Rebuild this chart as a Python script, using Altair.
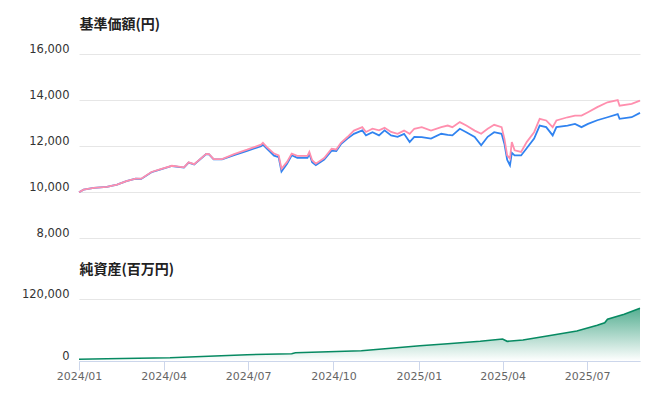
import altair as alt
import pandas as pd

# ---- 基準価額 (円) ----
nav_dates = ["2024-01-01","2024-01-06","2024-01-17","2024-01-31","2024-02-11","2024-02-21","2024-03-02","2024-03-08","2024-03-19","2024-03-29",
             "2024-04-10","2024-04-23","2024-04-28","2024-05-04","2024-05-17","2024-05-20","2024-05-25","2024-06-03","2024-06-16","2024-06-30",
             "2024-07-15","2024-07-17","2024-07-21","2024-07-29","2024-08-03","2024-08-06","2024-08-12","2024-08-17","2024-08-23","2024-09-03",
             "2024-09-05","2024-09-08","2024-09-12","2024-09-21","2024-09-29","2024-10-04","2024-10-09","2024-10-16","2024-10-23","2024-11-01",
             "2024-11-05","2024-11-12","2024-11-19","2024-11-25","2024-12-02","2024-12-09","2024-12-16","2024-12-22","2024-12-27","2025-01-04",
             "2025-01-14","2025-01-25","2025-02-01","2025-02-06","2025-02-14","2025-02-21","2025-03-02","2025-03-09","2025-03-16","2025-03-23",
             "2025-03-31","2025-04-03","2025-04-06","2025-04-09","2025-04-11","2025-04-14","2025-04-21","2025-04-27","2025-05-05","2025-05-11",
             "2025-05-18","2025-05-25","2025-05-29","2025-06-10","2025-06-18","2025-06-25","2025-07-02","2025-07-12","2025-07-23","2025-08-03",
             "2025-08-05","2025-08-18","2025-08-27"]

nav_reinvested = [9990,10100,10180,10220,10320,10470,10580,10580,10870,10990,
                  11140,11070,11290,11210,11660,11650,11430,11430,11650,11840,
                  12060,12140,11960,11670,11590,11010,11310,11670,11570,11570,
                  11740,11380,11230,11480,11880,11850,12140,12390,12670,12820,
                  12610,12750,12680,12790,12610,12530,12670,12530,12750,12820,
                  12670,12820,12890,12820,13040,12890,12670,12530,12750,12920,
                  12820,12320,11590,11450,12170,11810,11740,12170,12600,13180,
                  13110,12820,13110,13250,13320,13320,13470,13690,13900,14000,
                  13750,13830,13970]

nav_base = [9990,10100,10180,10220,10320,10470,10580,10570,10860,10980,
            11130,11060,11280,11200,11650,11640,11420,11420,11600,11790,
            11990,12060,11900,11580,11510,10890,11230,11600,11490,11490,
            11660,11300,11170,11410,11800,11780,12080,12320,12530,12680,
            12460,12600,12460,12680,12460,12400,12530,12170,12400,12390,
            12320,12530,12480,12460,12750,12600,12390,12030,12400,12600,
            12530,12100,11400,11160,11700,11590,11590,11900,12320,12890,
            12820,12460,12820,12890,12960,12820,12960,13120,13250,13390,
            13180,13250,13440]

# ---- 純資産 (百万円) ----
asset_dates = ["2024-01-01","2024-01-31","2024-04-08","2024-06-30","2024-08-17","2024-08-21","2024-10-31",
               "2024-12-08","2025-01-02","2025-02-01","2025-03-08","2025-04-01","2025-04-06","2025-04-23",
               "2025-05-19","2025-06-20","2025-07-12","2025-07-20","2025-07-23","2025-08-10","2025-08-27"]
net_assets = [3300,4500,6400,12200,14100,16100,19900,
              25700,29600,33500,38100,42600,38100,40600,
              48400,58000,69000,74100,80700,90400,102000]

nav_ticks = [8000, 10000, 12000, 14000, 16000]
asset_ticks = [0, 120000]
x_ticks = [(2024, 1), (2024, 4), (2024, 7), (2024, 10), (2025, 1), (2025, 4), (2025, 7)]

df_nav = pd.DataFrame({"date": nav_dates, "reinv": nav_reinvested, "base": nav_base})
df_assets = pd.DataFrame({"date": asset_dates, "assets": net_assets})

x_scale = alt.Scale(type="utc", domain=[alt.DateTime(year=2024, month=1, date=1, utc=True),
                                        alt.DateTime(year=2025, month=8, date=27, utc=True)])

LABEL_FONT = "DejaVu Sans"
TITLE_FONT = "Noto Sans CJK JP"

def y_axis(title, values):
    return alt.Axis(values=values, format=",d", title=title, grid=True, gridColor="#e6e6e6",
                    domain=False, ticks=False, labelPadding=10, labelBaseline="alphabetic",
                    labelOffset=-1.5,
                    labelFont=LABEL_FONT, labelFontSize=11.5, labelColor="#333333",
                    titleFont=TITLE_FONT, titleFontSize=14, titleFontWeight="bold", titleColor="#222222",
                    titleAngle=0, titleAlign="left", titleBaseline="middle", titleX=0, titleY=-30)

top_y_scale = alt.Scale(domain=[8000, 16000], nice=False, zero=False)
top_axis = y_axis("基準価額(円)", nav_ticks)

base_chart = alt.Chart(df_nav)
blue_line = base_chart.mark_line(color="#3083f0", strokeWidth=1.8).encode(
    x=alt.X("date:T", scale=x_scale, axis=None),
    y=alt.Y("base:Q", scale=top_y_scale, axis=top_axis),
)
pink_line = base_chart.mark_line(color="#ff8fae", strokeWidth=1.8).encode(
    x=alt.X("date:T", scale=x_scale, axis=None),
    y=alt.Y("reinv:Q", scale=top_y_scale, axis=top_axis),
)
top = alt.layer(blue_line, pink_line).properties(width=561, height=184)

gradient = alt.Gradient(
    gradient="linear",
    stops=[alt.GradientStop(color="#ffffff", offset=0),
           alt.GradientStop(color="#0e8c63", offset=1)],
    x1=1, x2=1, y1=1, y2=0,
)

bottom = alt.Chart(df_assets).mark_area(
    color=gradient, line={"color": "#078a62", "strokeWidth": 1.6}
).encode(
    x=alt.X("date:T", scale=x_scale,
            axis=alt.Axis(values=[alt.DateTime(year=y, month=m, date=1, utc=True) for y, m in x_ticks],
                          format="%Y/%m", grid=False, domainColor="#ccd6eb", tickColor="#ccd6eb",
                          tickSize=9, labelPadding=0, labelFlush=False, labelFont=LABEL_FONT,
                          labelFontSize=11, labelColor="#666666", title=None)),
    y=alt.Y("assets:Q", scale=alt.Scale(domain=[0, 120000], nice=False),
            axis=y_axis("純資産(百万円)", asset_ticks)),
).properties(width=561, height=62)

chart = alt.vconcat(top, bottom, spacing=23).properties(
    padding={"left": 13, "top": 9, "right": 5, "bottom": 5}
).configure_view(stroke=None)

chart.save("out.html", embed_options={"renderer": "svg", "actions": False})
